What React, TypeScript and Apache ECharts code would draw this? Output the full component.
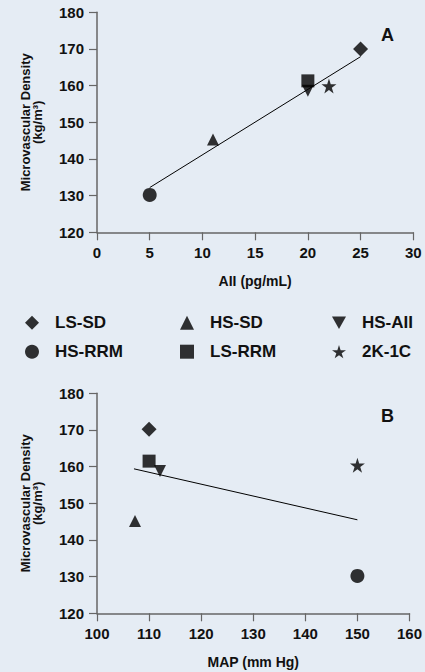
import React, { useEffect, useRef } from "react";
import * as echarts from "echarts";

const STAR =
  "path://M50,0L61.23,34.55L97.55,34.55L68.17,55.9L79.39,90.45L50,69.1L20.61,90.45L31.83,55.9L2.45,34.55L38.77,34.55Z";
const DOWN_TRIANGLE = "path://M0,0L10,0L5,9Z";

const groups = ["LS-SD", "HS-SD", "HS-AII", "HS-RRM", "LS-RRM", "2K-1C"];
const groupSymbols = ["diamond", "triangle", DOWN_TRIANGLE, "circle", "rect", STAR];
const groupSymbolSizes = [15, 12, 12, 14, 13, 15];

// Panel A: AII (pg/mL) vs microvascular density
const aiiValues = [25, 11, 20, 5, 20, 22];
const densityA = [170, 145.3, 158.6, 130.2, 161.3, 159.9];
const fitA = [
  [5, 132.2],
  [25, 167.9],
];

// Panel B: MAP (mm Hg) vs microvascular density
const mapValues = [110, 107.3, 112.1, 150, 110, 150];
const densityB = [170.2, 145.2, 158.8, 130.2, 161.5, 160.4];
const fitB = [
  [107.1, 159.4],
  [150, 145.5],
];

const legendColumns = [
  ["LS-SD", "HS-RRM"],
  ["HS-SD", "LS-RRM"],
  ["HS-AII", "2K-1C"],
];

const BG = "#e5ecf4";
const FONT = "'Liberation Sans', Arial, sans-serif";

export default function App() {
  const ref = useRef<HTMLDivElement>(null);

  useEffect(() => {
    if (!ref.current) return;
    const chart = echarts.init(ref.current, undefined, { renderer: "svg" });

    const axisCommon = {
      axisLine: { lineStyle: { color: "#666", width: 1.5 } },
      axisTick: { length: 8, lineStyle: { color: "#666", width: 1.2 } },
      splitLine: { show: false },
      axisLabel: {
        color: "#111",
        fontSize: 15,
        fontWeight: "bold" as const,
        fontFamily: FONT,
        margin: 13,
      },
      nameTextStyle: {
        color: "#111",
        fontWeight: "bold" as const,
        fontFamily: FONT,
      },
    };

    const yAxisCfg = (gridIndex: number) => ({
      ...axisCommon,
      type: "value" as const,
      gridIndex,
      min: 120,
      max: 180,
      interval: 10,
      name: "Microvascular Density\n(kg/m³)",
      nameLocation: "middle" as const,
      nameGap: 54,
      nameTextStyle: { ...axisCommon.nameTextStyle, fontSize: 13, lineHeight: 12 },
    });

    const scatterSeries: any[] = [];
    groups.forEach((g, i) => {
      scatterSeries.push({
        name: g,
        type: "scatter",
        xAxisIndex: 0,
        yAxisIndex: 0,
        symbol: groupSymbols[i],
        symbolSize: groupSymbolSizes[i],
        itemStyle: { color: "#000" },
        data: [[aiiValues[i], densityA[i]]],
        z: 3,
      });
      scatterSeries.push({
        name: g,
        type: "scatter",
        xAxisIndex: 1,
        yAxisIndex: 1,
        symbol: groupSymbols[i],
        symbolSize: groupSymbolSizes[i],
        itemStyle: { color: "#000" },
        data: [[mapValues[i], densityB[i]]],
        z: 3,
      });
    });

    chart.setOption({
      animation: false,
      backgroundColor: BG,
      grid: [
        { left: 97, top: 12.3, width: 316.3, height: 220 },
        { left: 97, top: 393.3, width: 316.3, height: 220 },
      ],
      xAxis: [
        {
          ...axisCommon,
          type: "value",
          gridIndex: 0,
          min: 0,
          max: 30,
          interval: 5,
          name: "AII (pg/mL)",
          nameLocation: "middle",
          nameGap: 41,
          nameTextStyle: { ...axisCommon.nameTextStyle, fontSize: 14, lineHeight: 16 },
        },
        {
          ...axisCommon,
          type: "value",
          gridIndex: 1,
          min: 100,
          max: 160,
          interval: 10,
          name: "MAP (mm Hg)",
          nameLocation: "middle",
          nameGap: 41,
          nameTextStyle: { ...axisCommon.nameTextStyle, fontSize: 14, lineHeight: 16 },
        },
      ],
      yAxis: [yAxisCfg(0), yAxisCfg(1)],
      legend: legendColumns.map((col, ci) => ({
        data: col,
        orient: "vertical",
        left: [25, 180, 332][ci],
        top: 314.2,
        padding: 0,
        itemWidth: 14,
        itemHeight: 14,
        itemGap: 12,
        textStyle: {
          color: "#111",
          fontSize: 17,
          fontWeight: "bold",
          fontFamily: FONT,
          lineHeight: 17,
          padding: [0, 0, 0, 11],
        },
      })),
      graphic: [
        {
          type: "text",
          left: 381,
          top: 26,
          style: { text: "A", fontSize: 18, fontWeight: "bold", fontFamily: FONT, fill: "#111" },
        },
        {
          type: "text",
          left: 381,
          top: 407,
          style: { text: "B", fontSize: 18, fontWeight: "bold", fontFamily: FONT, fill: "#111" },
        },
      ],
      series: [
        ...scatterSeries,
        {
          name: "fitA",
          type: "line",
          xAxisIndex: 0,
          yAxisIndex: 0,
          data: fitA,
          symbol: "none",
          lineStyle: { color: "#000", width: 1 },
          z: 2,
        },
        {
          name: "fitB",
          type: "line",
          xAxisIndex: 1,
          yAxisIndex: 1,
          data: fitB,
          symbol: "none",
          lineStyle: { color: "#000", width: 1 },
          z: 2,
        },
      ],
    });

    return () => chart.dispose();
  }, []);

  return (
    <div
      ref={ref}
      style={{ position: "absolute", left: 0, top: 0, width: 425, height: 672, background: BG }}
    />
  );
}
